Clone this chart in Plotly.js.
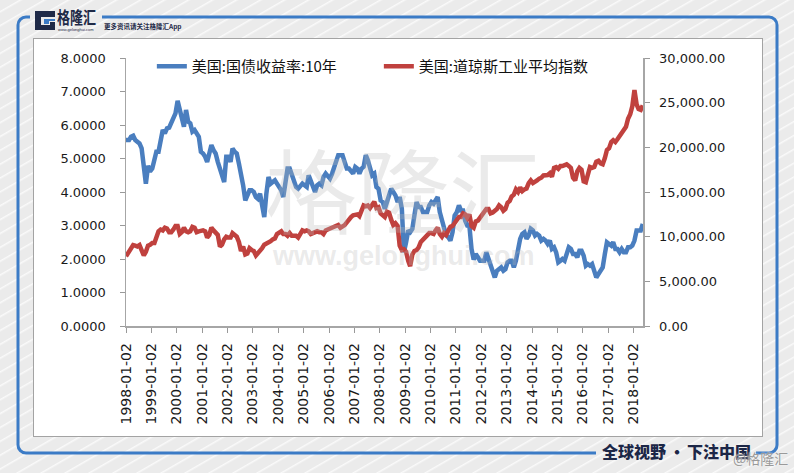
<!DOCTYPE html>
<html>
<head>
<meta charset="utf-8">
<script src="https://cdn.plot.ly/plotly-3.0.1.min.js"></script>
<style>
  html, body { margin:0; padding:0; }
  body {
    width:794px; height:473px; overflow:hidden; position:relative;
    background-color:#ebebeb;
    background-image: repeating-linear-gradient(150deg, rgba(255,255,255,0) 0px, rgba(255,255,255,0) 9px, rgba(255,255,255,0.75) 10px, rgba(255,255,255,0) 12px);
    font-family: "Noto Sans CJK SC", "Noto Sans", sans-serif;
  }
  #frame { position:absolute; left:0; top:0; }
  #box { position:absolute; left:33px; top:38px; width:728px; height:397px; background:#fff; border:1.5px solid #a3a3a3; }
  #chart { position:absolute; left:0; top:0; width:794px; height:473px; }
  .logo-text { position:absolute; left:57px; top:8px; font-size:13px; line-height:13px; font-weight:700; color:#1f2a48; transform-origin:0 0; transform:scale(1,1.3); white-space:nowrap; }
  .logo-url { position:absolute; left:58px; top:28px; font-size:4px; line-height:4px; color:#1f2a48; font-family:"Liberation Sans", sans-serif; white-space:nowrap; }
  .logo-sub { position:absolute; left:104px; top:23px; font-size:6.5px; line-height:7px; color:#1f2a48; font-weight:700; white-space:nowrap; }
  .slogan { position:absolute; left:602px; top:442px; font-size:16px; line-height:18px; font-weight:900; color:#1c2747; white-space:nowrap; }
  .slogan .dot { display:inline-block; margin:0 2px 0 3px; }
  .wm { position:absolute; left:733px; top:450px; font-size:14px; line-height:16px; color:#9a9a9a; text-shadow:0 0 2px #fff; white-space:nowrap; }
</style>
</head>
<body>
<svg id="frame" width="794" height="473">
  <path d="M102 17 L769 17 A8 8 0 0 1 777 25 L777 445 A8 8 0 0 1 769 453 L756 453" fill="none" stroke="#3b7bc6" stroke-width="3"/>
  <path d="M596 453 L26 453 A8 8 0 0 1 18 445 L18 25 A8 8 0 0 1 26 17 L30 17" fill="none" stroke="#3b7bc6" stroke-width="3"/>
  <path d="M35 11 L55 11 L55 17 L41 17 L41 25 L50 25 L50 22 L55 22 L55 30 L35 30 Z" fill="#1f2a48"/>
  <path d="M44 19 L55 19 L55 21 L49 21 L49 24 L44 24 Z" fill="#3b7bc6"/>
</svg>
<div id="box"></div>
<div class="logo-text">格隆汇</div>
<div class="logo-url">www.gelonghui.com</div>
<div class="logo-sub">更多资讯请关注格隆汇App</div>
<div id="chart"></div>
<div class="slogan">全球视野<span class="dot">•</span>下注中国</div>
<div class="wm">@格隆汇</div>
<script>
// ---- data (roughly monthly, 1998-01 .. 2018-05) ----
var startYear = 1998;
var yield10y = [
  5.55,5.55,5.65,5.68,5.55,5.48,5.45,5.30,4.80,4.25,4.78,4.62,
  4.70,5.00,5.20,5.20,5.55,5.85,5.75,5.90,5.92,6.05,6.15,6.35,
  6.72,6.45,6.15,5.95,6.45,6.10,6.05,5.80,5.85,5.75,5.65,5.20,
  5.15,5.05,4.90,5.15,5.40,5.25,5.15,4.90,4.70,4.55,4.30,5.05,
  5.05,4.90,5.30,5.20,5.15,4.85,4.55,4.20,3.75,3.90,4.05,4.05,
  4.00,3.85,3.80,3.95,3.55,3.25,3.95,4.45,4.25,4.30,4.35,4.25,
  4.15,4.05,3.85,4.40,4.70,4.70,4.50,4.30,4.15,4.10,4.20,4.25,
  4.20,4.15,4.50,4.35,4.15,4.00,4.20,4.25,4.20,4.45,4.55,4.45,
  4.40,4.55,4.70,4.95,5.10,5.10,5.10,4.90,4.70,4.70,4.60,4.55,
  4.75,4.70,4.55,4.70,4.75,5.10,4.95,4.65,4.50,4.55,4.15,4.10,
  3.75,3.70,3.50,3.70,3.90,4.10,4.00,3.90,3.70,3.85,3.50,2.20,
  2.50,2.85,2.80,2.90,3.30,3.70,3.55,3.55,3.40,3.40,3.40,3.60,
  3.70,3.65,3.75,3.85,3.40,3.20,3.00,2.70,2.65,2.55,2.80,3.30,
  3.40,3.60,3.45,3.45,3.15,3.00,3.00,2.30,1.98,2.15,2.05,1.95,
  1.95,1.95,2.20,2.00,1.75,1.65,1.45,1.65,1.70,1.75,1.65,1.70,
  1.90,1.95,1.95,1.75,1.95,2.35,2.60,2.75,2.80,2.60,2.70,2.90,
  2.85,2.70,2.75,2.70,2.55,2.60,2.55,2.45,2.55,2.30,2.35,2.20,
  1.90,1.95,2.00,1.95,2.20,2.35,2.30,2.15,2.15,2.05,2.25,2.25,
  2.10,1.80,1.85,1.80,1.85,1.65,1.45,1.55,1.65,1.75,2.15,2.50,
  2.45,2.40,2.50,2.30,2.30,2.20,2.30,2.20,2.20,2.35,2.35,2.40,
  2.55,2.85,2.85,2.85,3.05
];
var djia = [
  7800,8350,8700,9050,9000,8900,9050,8300,7900,8300,9000,9100,
  9300,9300,9800,10600,10800,10700,11000,10900,10500,10500,10800,11200,
  11200,10300,10500,11000,10600,10500,10600,11100,11000,10500,10600,10700,
  10700,10600,9900,10200,11000,10700,10400,10200,8900,9100,9700,10000,
  9900,9900,10400,10100,10000,9400,8400,8900,8000,8100,8700,8500,
  8400,7900,8100,8400,8700,9100,9200,9400,9500,9700,9800,10300,
  10500,10600,10300,10300,10100,10400,10100,10100,10100,9900,10400,10700,
  10600,10700,10600,10300,10400,10500,10600,10500,10500,10300,10700,10800,
  10900,11000,11100,11300,11300,11000,11100,11300,11600,12000,12200,12400,
  12500,12500,12300,12900,13500,13400,13500,13200,13700,13900,13200,13300,
  12600,12300,12200,12800,12700,11900,11300,11500,11200,9000,8500,8600,
  8300,7300,6700,8000,8400,8500,8800,9400,9700,9800,10200,10400,
  10400,10300,10700,11000,10300,10000,10400,10200,10700,11100,11200,11500,
  11900,12200,12200,12600,12500,12100,12500,11200,11000,11700,11800,12100,
  12600,12900,13100,13100,12600,12700,12900,13100,13500,13300,12900,13100,
  13800,14000,14500,14700,15300,15000,15500,15100,15300,15400,16000,16300,
  16000,16100,16300,16500,16600,16850,16900,16900,17100,16700,17700,17800,
  17600,17900,17900,18000,18100,17900,17700,16600,16300,17300,17700,17500,
  16200,16100,17200,17800,17700,17800,18400,18500,18200,18100,18800,19700,
  19900,20600,20800,20600,20900,21300,21600,21900,22300,23200,23700,24600,
  26400,24800,24300,24200,24700
];
var tickYears = [1998,1999,2000,2001,2002,2003,2004,2005,2006,2007,2008,2009,2010,2011,2012,2013,2014,2015,2016,2017,2018];
var name1 = '美国:国债收益率:10年';
var name2 = '美国:道琼斯工业平均指数';

// month dates for the series
function pad(n){ return (n<10?'0':'')+n; }
var dates = yield10y.map(function(_, i){
  var y = startYear + Math.floor(i/12), m = i%12 + 1;
  return i === 0 ? '1998-01-02' : (y + '-' + pad(m) + '-15');
});
var tickVals = tickYears.map(function(y){ return y + '-01-02'; });

var blue = '#4a7ebf', red = '#c0413e';
var traces = [
  { x: dates, y: yield10y, name: name1, type:'scatter', mode:'lines', line:{color:blue, width:4.5}, yaxis:'y' },
  { x: dates, y: djia, name: name2, type:'scatter', mode:'lines', line:{color:red, width:4.5}, yaxis:'y2' }
];
var tickFont = {family:'DejaVu Sans', size:13, color:'#1a1a1a'};
var layout = {
  width:794, height:473,
  margin:{l:126, r:151, t:58, b:147, pad:0},
  paper_bgcolor:'rgba(0,0,0,0)', plot_bgcolor:'rgba(0,0,0,0)',
  showlegend:true,
  legend:{orientation:'h', x:0.05, y:1.03, xanchor:'left', yanchor:'top',
          font:{family:'Noto Sans CJK SC', size:15, color:'#111'}, bgcolor:'rgba(0,0,0,0)', entrywidth:182},
  xaxis:{type:'date', range:['1998-01-02','2018-05-18'], tickmode:'array', tickvals:tickVals, ticktext:tickVals,
         tickangle:-90, ticks:'outside', ticklen:5, tickcolor:'#999', showline:true, linecolor:'#a6a6a6', linewidth:1.5,
         showgrid:false, zeroline:false, tickfont:{family:'DejaVu Sans', size:14, color:'#1a1a1a'}, ticklabelstandoff:5},
  yaxis:{range:[0,8], dtick:1, tick0:0, tickformat:'.4f', ticks:'outside', ticklen:5, tickcolor:'#999',
         showline:true, linecolor:'#a6a6a6', linewidth:1.5, showgrid:false, zeroline:false, tickfont:tickFont, ticklabelstandoff:11},
  yaxis2:{range:[0,30000], dtick:5000, tick0:0, tickformat:',.2f', overlaying:'y', side:'right', ticks:'outside', ticklen:5, tickcolor:'#999',
         showline:true, linecolor:'#a6a6a6', linewidth:1.5, showgrid:false, zeroline:false, tickfont:tickFont, ticklabelstandoff:7},
  annotations:[
    {text:'格隆汇', xref:'paper', yref:'paper', x:(403-126)/517, y:(326-186)/268, showarrow:false,
     font:{family:'Noto Sans CJK SC', size:92, color:'rgba(185,185,185,0.3)'}},
    {text:'www.gelonghui.com', xref:'paper', yref:'paper', x:(403-126)/517, y:(326-273)/268, showarrow:false,
     font:{family:'Liberation Sans', size:27, weight:700, color:'rgba(185,185,185,0.3)'}}
  ]
};
Plotly.newPlot('chart', traces, layout, {staticPlot:true, displayModeBar:false});
</script>
</body>
</html>
